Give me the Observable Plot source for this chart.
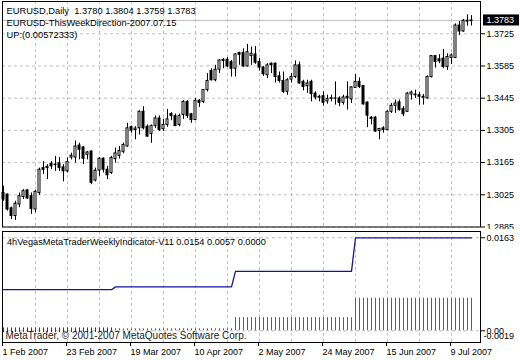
<!DOCTYPE html>
<html>
<head>
<meta charset="utf-8">
<script src="https://cdn.jsdelivr.net/npm/d3@7"></script>
<script src="https://cdn.jsdelivr.net/npm/@observablehq/plot@0.6"></script>
<style>
body { margin: 0; background: #fff; }
#chart { width: 520px; height: 360px; position: relative; overflow: hidden; background: #fff; }
#chart svg { display: block; }
#chart text { white-space: pre; }
</style>
</head>
<body>
<div id="chart"></div>
<script>
// ---- Daily EURUSD candles, 1 Feb 2007 .. mid Jul 2007 (bar index 0..117) ----
const open = [1.3033,1.3026,1.2966,1.2933,1.2983,1.3015,1.3044,1.3019,1.2961,1.3033,
1.3141,1.3141,1.3159,1.3156,1.3162,1.3144,1.3127,1.3187,1.3187,1.3239,
1.3231,1.3199,1.3213,1.3087,1.3130,1.3182,1.3134,1.3120,1.3180,1.3195,
1.3212,1.3235,1.3319,1.3307,1.3314,1.3386,1.3321,1.3290,1.3324,1.3357,
1.3310,1.3329,1.3376,1.3367,1.3329,1.3372,1.3429,1.3375,1.3350,1.3434,
1.3429,1.3480,1.3563,1.3523,1.3569,1.3612,1.3612,1.3602,1.3573,1.3641,
1.3641,1.3583,1.3628,1.3635,1.3602,1.3578,1.3545,1.3595,1.3595,1.3540,
1.3520,1.3473,1.3526,1.3537,1.3588,1.3516,1.3497,1.3516,1.3465,1.3447,
1.3454,1.3431,1.3442,1.3444,1.3444,1.3425,1.3451,1.3440,1.3490,1.3516,
1.3498,1.3426,1.3360,1.3360,1.3303,1.3314,1.3307,1.3386,1.3412,1.3427,
1.3398,1.3386,1.3461,1.3458,1.3458,1.3447,1.3444,1.3537,1.3628,1.3614,
1.3617,1.3581,1.3620,1.3620,1.3761,1.3735,1.3782,1.3780];
const high = [1.3062,1.3029,1.2972,1.2997,1.3033,1.3048,1.3048,1.3033,1.3044,1.3141,
1.3170,1.3156,1.3170,1.3192,1.3187,1.3156,1.3185,1.3206,1.3259,1.3249,
1.3235,1.3213,1.3216,1.3141,1.3187,1.3185,1.3149,1.3192,1.3228,1.3235,
1.3250,1.3336,1.3324,1.3321,1.3390,1.3408,1.3329,1.3329,1.3368,1.3368,
1.3353,1.3396,1.3382,1.3376,1.3376,1.3434,1.3434,1.3379,1.3444,1.3439,
1.3483,1.3552,1.3573,1.3588,1.3612,1.3617,1.3621,1.3609,1.3638,1.3645,
1.3660,1.3679,1.3667,1.3670,1.3617,1.3583,1.3595,1.3598,1.3598,1.3559,
1.3559,1.3530,1.3552,1.3607,1.3602,1.3523,1.3523,1.3523,1.3473,1.3458,
1.3473,1.3458,1.3458,1.3516,1.3451,1.3458,1.3516,1.3494,1.3548,1.3533,
1.3501,1.3429,1.3365,1.3365,1.3314,1.3321,1.3389,1.3422,1.3437,1.3437,
1.3408,1.3470,1.3476,1.3480,1.3470,1.3461,1.3542,1.3631,1.3631,1.3634,
1.3657,1.3638,1.3638,1.3768,1.3778,1.3787,1.3807,1.3804];
const low = [1.2997,1.2954,1.2918,1.2914,1.2969,1.3005,1.3005,1.2940,1.2947,1.3023,
1.3113,1.3091,1.3134,1.3127,1.3127,1.3081,1.3120,1.3177,1.3163,1.3177,
1.3156,1.3177,1.3069,1.3081,1.3105,1.3120,1.3091,1.3113,1.3163,1.3180,
1.3203,1.3232,1.3293,1.3264,1.3285,1.3307,1.3275,1.3249,1.3314,1.3300,
1.3300,1.3319,1.3347,1.3321,1.3321,1.3353,1.3357,1.3336,1.3347,1.3405,
1.3422,1.3472,1.3520,1.3516,1.3552,1.3573,1.3578,1.3537,1.3537,1.3588,
1.3578,1.3581,1.3588,1.3592,1.3563,1.3540,1.3530,1.3552,1.3511,1.3511,
1.3465,1.3458,1.3511,1.3530,1.3506,1.3477,1.3465,1.3429,1.3437,1.3429,
1.3411,1.3419,1.3429,1.3415,1.3408,1.3415,1.3393,1.3422,1.3487,1.3487,
1.3415,1.3317,1.3329,1.3297,1.3264,1.3293,1.3303,1.3379,1.3379,1.3389,
1.3365,1.3383,1.3437,1.3444,1.3415,1.3415,1.3441,1.3533,1.3576,1.3595,
1.3573,1.3566,1.3591,1.3617,1.3717,1.3732,1.3758,1.3759];
const close = [1.3005,1.2961,1.2933,1.2986,1.3019,1.3041,1.3009,1.2964,1.3038,1.3134,
1.3134,1.3147,1.3149,1.3154,1.3141,1.3127,1.3167,1.3195,1.3235,1.3221,
1.3182,1.3209,1.3077,1.3130,1.3182,1.3134,1.3110,1.3185,1.3205,1.3215,
1.3242,1.3314,1.3304,1.3313,1.3386,1.3314,1.3278,1.3324,1.3357,1.3307,
1.3329,1.3353,1.3367,1.3324,1.3367,1.3429,1.3367,1.3350,1.3434,1.3425,
1.3480,1.3520,1.3523,1.3569,1.3609,1.3607,1.3583,1.3573,1.3635,1.3634,
1.3583,1.3645,1.3638,1.3599,1.3578,1.3549,1.3588,1.3588,1.3537,1.3520,
1.3473,1.3523,1.3537,1.3588,1.3509,1.3494,1.3509,1.3463,1.3448,1.3451,
1.3425,1.3441,1.3445,1.3443,1.3425,1.3448,1.3444,1.3492,1.3516,1.3494,
1.3418,1.3369,1.3355,1.3300,1.3311,1.3307,1.3386,1.3412,1.3422,1.3393,
1.3375,1.3465,1.3470,1.3461,1.3451,1.3451,1.3537,1.3628,1.3602,1.3605,
1.3581,1.3624,1.3631,1.3761,1.3735,1.3782,1.3778,1.3783];

// ---- axis ticks and labels ----
const dateTickIndex = [0, 16, 32, 48, 64, 80, 96, 112];
const dateTickLabels = ["1 Feb 2007", "23 Feb 2007", "19 Mar 2007", "10 Apr 2007", "2 May 2007", "24 May 2007", "15 Jun 2007", "9 Jul 2007"];
const gridIndex = [8, 16, 24, 32, 40, 48, 56, 64, 72, 80, 88, 96, 104, 112];
const priceTicks = [1.3725, 1.3585, 1.3445, 1.3305, 1.3165, 1.3025, 1.2885];
const lastPrice = 1.3783;
const headerLines = ["EURUSD,Daily  1.3780 1.3804 1.3759 1.3783", "EURUSD-ThisWeekDirection-2007.07.15", "UP:(0.00572333)"];

// ---- indicator sub-window (weekly step values per block of bars) ----
const indicatorTitle = "4hVegasMetaTraderWeeklyIndicator-V11 0.0154 0.0057 0.0000";
const copyrightText = "MetaTrader, \u00A9 2001-2007 MetaQuotes Software Corp.";
const blockStart = [0, 28, 58, 88];
const lineLevels = [0.0072, 0.0077, 0.0104, 0.0163];
const greenLevels = [0, 0.00035, 0.0023, 0.0057];
const redTop = [0.0005, 0, 0, 0];
const redBottom = [-0.0003, 0, 0, 0];
const indTicks = [0.0163, 0];
const indMin = -0.0019;

const N = open.length;
const candles = d3.range(N).map(i => ({bar: i, o: open[i], h: high[i], l: low[i], c: close[i]}));
const ind = d3.range(N).map(i => {
  const b = d3.bisectRight(blockStart, i) - 1;
  return {bar: i, blue: lineLevels[b], up: greenLevels[b], dnTop: redTop[b], dnBot: redBottom[b]};
});

const FONT = "'Liberation Sans', Arial, sans-serif";
const GRID = "#c0c0c0";
const xDomain = [-0.25, 119.25];

const main = Plot.plot({
  width: 520, height: 229,
  marginLeft: 2, marginRight: 40, marginTop: 1, marginBottom: 2.5,
  x: {domain: xDomain, axis: null, label: null},
  y: {domain: [1.2885, 1.38654], axis: null, label: null},
  style: {fontFamily: FONT, fontSize: "9px", background: "white", color: "black"},
  marks: [
    Plot.ruleX(gridIndex, {x: d => d, stroke: GRID, strokeDasharray: "3,3"}),
    Plot.ruleY(priceTicks, {y: d => d, stroke: GRID, strokeDasharray: "3,3"}),
    Plot.ruleY([lastPrice], {y: d => d, stroke: GRID}),
    Plot.ruleX(candles, {x: "bar", y1: "l", y2: "h", stroke: "black"}),
    Plot.rect(candles, {x1: d => d.bar - 0.25, x2: d => d.bar + 0.25, y1: "o", y2: "c",
      fill: d => d.c >= d.o ? "white" : "black", stroke: "black"}),
    Plot.text([headerLines.join("\n")], {text: d => d, frameAnchor: "top-left", lineAnchor: "top",
      lineHeight: 1.29, dx: 4, dy: 4.1, fontSize: 9.3, fill: "black"}),
    Plot.frame({stroke: "black"}),
    Plot.axisY(priceTicks, {anchor: "right", tickSize: 4, tickPadding: 2, tickFormat: d => d.toFixed(4), fill: "black", label: null}),
    // current price badge (box sits just right of the plot frame)
    Plot.rect([lastPrice], {x1: xDomain[1] + 0.75, x2: xDomain[1] + 9.75, y1: d => d - 0.0024, y2: d => d + 0.0024, fill: "black"}),
    Plot.text([lastPrice], {y: d => d, text: d => d.toFixed(4), frameAnchor: "right", dx: 6,
      textAnchor: "start", fill: "white"})
  ]
});

const lower = Plot.plot({
  width: 520, height: 131,
  marginLeft: 2, marginRight: 40, marginTop: 2, marginBottom: 18,
  x: {domain: xDomain, axis: null, label: null},
  y: {domain: [-0.00205, 0.0174], axis: null, label: null},
  style: {fontFamily: FONT, fontSize: "9px", background: "white", color: "black"},
  marks: [
    Plot.ruleX(gridIndex, {x: d => d, stroke: GRID, strokeDasharray: "3,3"}),
    Plot.ruleY(indTicks, {y: d => d, stroke: GRID, strokeDasharray: "3,3"}),
    Plot.ruleX(ind.filter(d => d.dnTop > 0), {x: "bar", y1: "dnBot", y2: "dnTop", stroke: "#d00000"}),
    Plot.ruleX(ind.filter(d => d.up > 0), {x: "bar", y1: () => 0, y2: "up", stroke: "#00a000"}),
    Plot.lineY(ind, {x: "bar", y: "blue", stroke: "#1414a0", strokeWidth: 1.3}),
    Plot.text([indicatorTitle], {text: d => d, frameAnchor: "top-left", lineAnchor: "top", dx: 4.5, dy: 6.5, fontSize: 9.2, fill: "black"}),
    Plot.text([copyrightText], {text: d => d, frameAnchor: "top-left", lineAnchor: "top", dx: 3, dy: 100.2, fontSize: 10, fill: "#222"}),
    Plot.frame({stroke: "black"}),
    Plot.axisY(indTicks, {anchor: "right", tickSize: 4, tickPadding: 2, fill: "black", label: null,
      tickFormat: d => d === 0 ? "0.00" : d.toFixed(4)}),
    Plot.text([indMin], {y: d => d, text: d => d.toFixed(4), frameAnchor: "right", dx: 3, dy: -6,
      textAnchor: "start", fill: "black"}),
    Plot.axisX(dateTickIndex, {anchor: "bottom", tickSize: 4, tickPadding: 2.6, textAnchor: "start", dx: -1,
      fill: "black", label: null, tickFormat: d => dateTickLabels[dateTickIndex.indexOf(d)]})
  ]
});

const root = document.getElementById("chart");
root.appendChild(main);
root.appendChild(lower);
</script>
</body>
</html>
